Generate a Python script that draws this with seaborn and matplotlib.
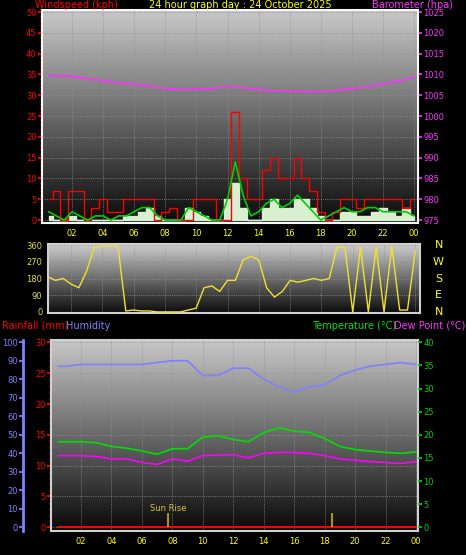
import numpy as np
import pandas as pd
import matplotlib
matplotlib.use("Agg")
import matplotlib.pyplot as plt
from matplotlib.ticker import AutoMinorLocator
import seaborn as sns

sns.set_theme(style="dark")
plt.rcParams['font.family'] = ['DejaVu Sans']

# ---- data ----
t_half = [0.5 * i for i in range(1, 49)]  # 0.5 .. 24.0
gust = [5, 7, 0, 7, 7, 0, 3, 5, 2, 2, 5, 5,
        5, 5, 0, 2, 3, 0, 0, 5, 5, 5, 0, 0,
        26, 10, 5, 5, 12, 15, 10, 10, 15, 10, 7, 2,
        0, 2, 5, 5, 3, 5, 5, 5, 5, 5, 3, 5]
wind_avg = [2, 1, 0, 2, 1, 0, 1, 1, 0, 1, 1, 2,
            3, 3, 1, 0, 0, 0, 3, 2, 1, 0, 0, 5,
            14, 6, 1, 2, 4, 5, 3, 4, 6, 4, 2, 0,
            1, 2, 3, 2, 2, 3, 3, 2, 2, 2, 2, 1]
wind_speed = [1, 0, 0, 1, 0, 0, 0, 0, 0, 0, 1, 1,
              2, 3, 1, 0, 0, 0, 3, 2, 1, 0, 0, 5,
              9, 3, 0, 0, 3, 5, 3, 3, 5, 5, 3, 1,
              0, 0, 2, 2, 1, 1, 2, 3, 2, 1, 3, 1]
wind_dir = [190, 170, 180, 150, 130, 220, 350, 355, 355, 355, 5, 10,
            5, 5, 0, 0, 0, 0, 10, 20, 130, 140, 110, 170,
            170, 280, 300, 280, 130, 80, 110, 170, 160, 170, 180, 170,
            180, 350, 350, 0, 350, 0, 350, 0, 355, 10, 10, 330]

t_hour = [0.5] + list(range(1, 25))
baro = [1009.8, 1009.7, 1009.6, 1009.0, 1008.5, 1008.0, 1007.7, 1007.2, 1006.6,
        1006.3, 1006.4, 1006.6, 1007.2, 1006.8, 1006.3, 1006.1, 1006.0, 1005.9,
        1005.9, 1006.2, 1006.6, 1007.1, 1007.8, 1008.4, 1009.4]
humidity = [87, 87, 88, 88, 88, 88, 88, 89, 90, 90, 82, 82, 86, 86, 80, 76,
            73, 76, 77, 82, 85, 87, 88, 89, 88]
temp = [18.5, 18.5, 18.5, 18.3, 17.5, 17.1, 16.5, 15.8, 17, 17, 19.5, 19.8,
        19, 18.5, 20.5, 21.5, 20.8, 20.5, 19.2, 17.5, 16.8, 16.5, 16.2, 16, 16.3]
dew = [15.5, 15.5, 15.5, 15.3, 14.8, 14.8, 14, 13.6, 14.8, 14.3, 15.5, 15.6,
       15.7, 15, 16, 16.2, 16.2, 16, 15.5, 14.8, 14.5, 14.2, 14, 13.8, 14.2]
rain = [0] * 25
sun_times = [7.7, 18.5]
x_ticks = list(range(2, 25, 2))
x_labels = ["%02d" % (h % 24) for h in x_ticks]

fig = plt.figure(figsize=(4.66, 5.55), dpi=100, facecolor="black")
W, H = 466, 555


def make_ax(l, t, r, b):
    return fig.add_axes([l / W, 1 - b / H, (r - l) / W, (b - t) / H])


def background(ax, top=0.78, bottom=0.04):
    g = np.linspace(top, bottom, 64).reshape(-1, 1)
    ax.imshow(g, cmap="gray", vmin=0, vmax=1, aspect="auto", extent=[0, 1, 0, 1],
              transform=ax.transAxes, zorder=0)


def style(ax, ycol):
    ax.set_facecolor("black")
    for s in ax.spines.values():
        s.set_color("#d0d0d0")
        s.set_linewidth(1.5)
    ax.tick_params(axis="x", colors="yellow", labelsize=6, length=2, pad=2)
    ax.tick_params(axis="y", colors=ycol, labelsize=6, length=3, pad=1)
    ax.yaxis.set_minor_locator(AutoMinorLocator(5))
    ax.tick_params(axis="y", which="minor", colors=ycol, length=1.5)
    ax.set_xticks(x_ticks)
    ax.set_xticklabels(x_labels)
    ax.set_xlabel("")
    ax.set_ylabel("")
    ax.grid(True, color="#909090", linestyle=":", linewidth=0.6)


def twin(ax, col):
    tw = ax.twinx()
    tw.tick_params(axis="x", labelbottom=False, labeltop=False, bottom=False, top=False)
    tw.tick_params(axis="y", colors=col, labelsize=6, length=3, pad=1)
    return tw


# ---- top panel: wind + barometer ----
ax1 = make_ax(42, 10, 418, 223)
background(ax1)
ax1.fill_between(t_half, wind_speed, step="mid", color="#d8f0d0", zorder=2)
sns.lineplot(x=t_half, y=gust, ax=ax1, color="red", lw=1.0, drawstyle="steps-mid", zorder=3)
sns.lineplot(x=t_half, y=wind_avg, ax=ax1, color="#00d000", lw=1.2, zorder=4)
ax1.set_xlim(0.07, 24.25)
ax1.set_ylim(-0.7, 50.5)
ax1.set_yticks(range(0, 51, 5))
style(ax1, "red")
ax1b = twin(ax1, "#ff30ff")
sns.lineplot(x=t_hour, y=baro, ax=ax1b, color="#ff30ff", lw=1.2, zorder=5)
ax1b.set_ylim(974.3, 1025.5)
ax1b.set_yticks(range(975, 1026, 5))
ax1b.set_ylabel("")
fig.text(35 / W, 1 - 5 / H, "Windspeed (kph)", color="red", fontsize=7, va="center")
fig.text(240 / W, 1 - 5 / H, "24 hour graph day : 24 October 2025", color="yellow",
         fontsize=7, va="center", ha="center")
fig.text(372 / W, 1 - 5 / H, "Barometer (hpa)", color="#ff30ff", fontsize=7, va="center")

# ---- middle panel: wind direction ----
ax2 = make_ax(48, 244, 420, 313)
background(ax2, 0.8, 0.05)
sns.lineplot(x=t_half, y=wind_dir, ax=ax2, color="#f0e030", lw=1.0, zorder=3)
ax2.set_xlim(0.53, 24.3)
ax2.set_ylim(-6, 366)
ax2.set_yticks([0, 90, 180, 270, 360])
style(ax2, "#e0e030")
ax2.yaxis.set_minor_locator(AutoMinorLocator(3))
ax2.tick_params(axis="x", labelbottom=False, bottom=False)
for lab, y in zip(["N", "W", "S", "E", "N"], [360, 270, 180, 90, 0]):
    ax2.text(1.05, (y + 6) / 372, lab, transform=ax2.transAxes, color="yellow",
             fontsize=8, va="center", ha="center")

# ---- bottom panel: rain, humidity, temperature, dew ----
fig.text(2 / W, 1 - 326 / H, "Rainfall (mm)", color="red", fontsize=7, va="center")
fig.text(66 / W, 1 - 326 / H, "Humidity", color="#8080ff", fontsize=7, va="center")
fig.text(312 / W, 1 - 326 / H, "Temperature (°C)", color="#00e000", fontsize=7, va="center")
fig.text(394 / W, 1 - 326 / H, "Dew Point (°C)", color="#ff30ff", fontsize=7, va="center")

ax3 = make_ax(51, 340, 418, 531)
background(ax3)
ax3.set_xlim(0.03, 24.13)
ax3.set_ylim(-0.6, 30.4)
ax3.set_yticks(range(0, 31, 5))
style(ax3, "red")
sns.lineplot(x=t_hour, y=rain, ax=ax3, color="red", lw=1.5, zorder=3)
ax3.set_ylabel("")

axh = twin(ax3, "#8080ff")
axh.set_ylim(-2, 101.2)
axh.set_yticks(range(0, 101, 10))
axh.yaxis.set_ticks_position("left")
axh.spines["left"].set_position(("outward", 20))
axh.spines["left"].set_color("#8080ff")
axh.spines["left"].set_linewidth(2)
sns.lineplot(x=t_hour, y=humidity, ax=axh, color="#8080ff", lw=1.2)
axh.set_ylabel("")

axt = twin(ax3, "#00d000")
axt.set_ylim(-0.8, 40.5)
axt.set_yticks(range(0, 41, 5))
sns.lineplot(x=t_hour, y=temp, ax=axt, color="#00e000", lw=1.2)
sns.lineplot(x=t_hour, y=dew, ax=axt, color="#ff00ff", lw=1.2)
axt.vlines(sun_times, 0, 3.2, color="#c8b400", lw=1.2)
axt.text(sun_times[0], 3.6, "Sun Rise", color="#d8c030", fontsize=6, ha="center")
axt.set_ylabel("")
for a in (axh, axt):
    for s in a.spines.values():
        s.set_visible(s is a.spines["left"] and a is axh)

fig.savefig("out.png", dpi=100, facecolor="black")
